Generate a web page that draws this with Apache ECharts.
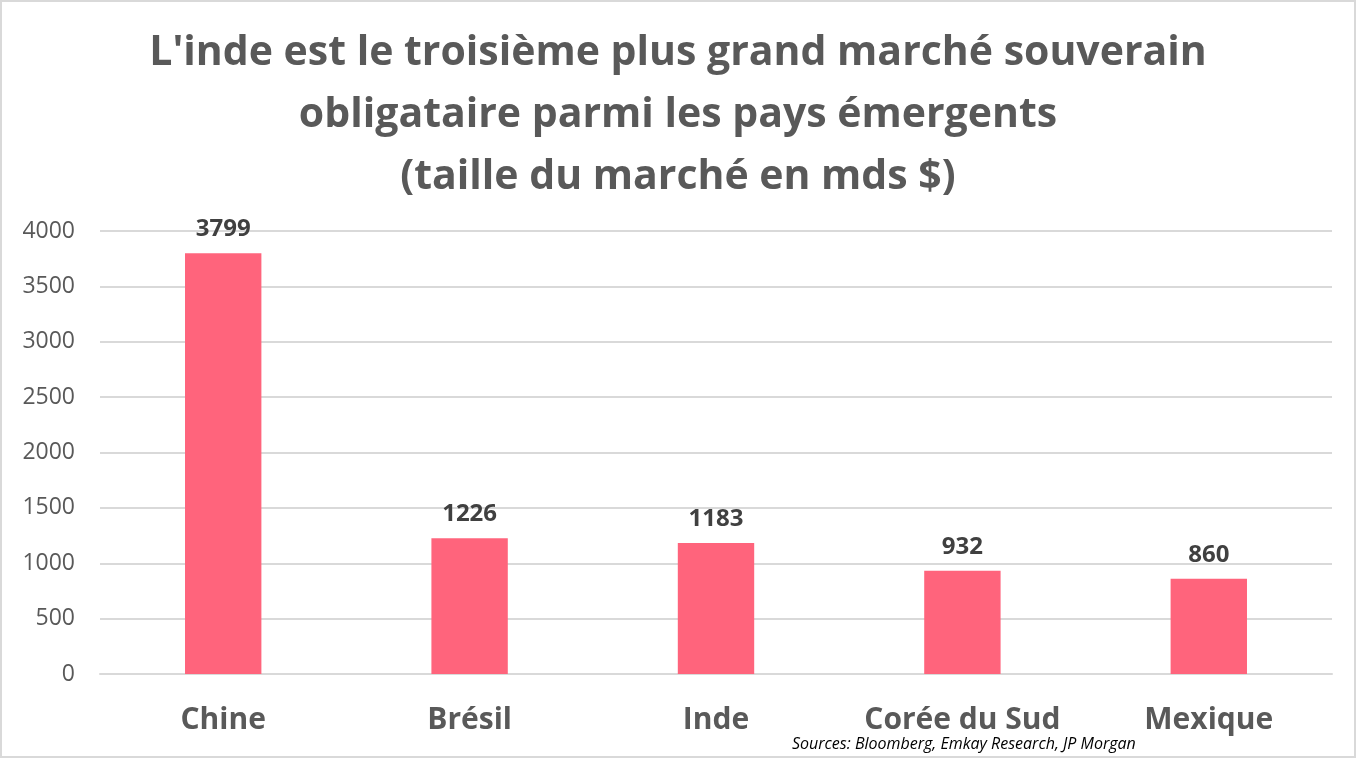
<!DOCTYPE html>
<html><head><meta charset="utf-8">
<script src="https://cdn.jsdelivr.net/npm/echarts@6/dist/echarts.min.js"></script>
<style>html,body{margin:0;padding:0;background:#fff}#c{width:1356px;height:758px;box-sizing:border-box;border:2px solid #d9d9d9}</style>
</head><body><div id="c"></div>
<script>
const categories = ['Chine', 'Brésil', 'Inde', 'Corée du Sud', 'Mexique'];
const values = [3799, 1226, 1183, 932, 860];
const titleText = "L'inde est le troisième plus grand marché souverain\nobligataire parmi les pays émergents\n(taille du marché en mds $)";
const sourceText = 'Sources: Bloomberg, Emkay Research, JP Morgan';

const chart = echarts.init(document.getElementById('c'));
chart.setOption({
  animation: false,
  title: {
    text: titleText, left: 'center', top: 15,
    textStyle: {fontFamily: 'Open Sans', fontWeight: 'bold', fontSize: 41, color: '#595959', lineHeight: 62}
  },
  graphic: [{
    type: 'text', left: 790, top: 734,
    style: {text: sourceText, font: 'italic 16px "Open Sans"', fill: '#000'}
  }],
  grid: {left: 98, right: 22, top: 229, bottom: 82},
  xAxis: {
    type: 'category', data: categories,
    axisLine: {lineStyle: {color: '#d9d9d9', width: 2}},
    axisTick: {show: false},
    axisLabel: {interval: 0, hideOverlap: false, fontFamily: 'Open Sans', fontWeight: 'bold', fontSize: 30, color: '#595959', margin: 31}
  },
  yAxis: {
    type: 'value', min: 0, max: 4000, interval: 500,
    axisLine: {show: false}, axisTick: {show: false},
    splitLine: {lineStyle: {color: '#d9d9d9', width: 2}},
    axisLabel: {fontFamily: 'Open Sans', fontSize: 23, color: '#595959', margin: 25, formatter: v => String(v)}
  },
  series: [{
    type: 'bar', data: values, barWidth: '31%',
    itemStyle: {color: '#ff647c'},
    label: {show: true, position: 'top', distance: 12, fontFamily: 'Open Sans', fontWeight: 'bold', fontSize: 24, color: '#404040'}
  }]
});
</script></body></html>
